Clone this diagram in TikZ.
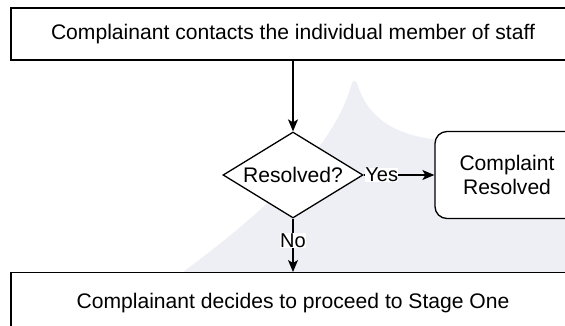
\documentclass[tikz,border=0pt]{standalone}
\usepackage{fontspec}
\setmainfont{Liberation Sans}
\usetikzlibrary{shapes.geometric,arrows.meta}
\definecolor{wm}{RGB}{238,239,245}
\begin{document}
\begin{tikzpicture}[x=1pt,y=-1pt,
  every node/.style={font=\fontsize{21.1}{23.5}\selectfont},
  boxstyle/.style={draw, line width=1.3pt, fill=white, inner sep=0pt, minimum width=564pt},
  decstyle/.style={draw, diamond, shape aspect=1.63, line width=1.3pt, fill=white, inner sep=0pt, minimum width=140pt, minimum height=86pt},
  endstyle/.style={draw, rectangle, rounded corners=12pt, line width=1.3pt, fill=white, inner sep=0pt, minimum width=144pt, minimum height=87pt, align=center},
  conn/.style={line width=1.3pt, -{Stealth[length=12pt,width=10pt,inset=3pt]}},
  lbl/.style={fill=white, inner sep=0.5pt, font=\fontsize{20}{22}\selectfont}]
\useasboundingbox (0,0) rectangle (565,325);
% faint background shape
\fill[wm] (183,272) .. controls (260,215) and (333,150) .. (351,86)
  .. controls (353,79) and (356,79) .. (358,86)
  .. controls (370,122) and (400,136) .. (440,140) -- (570,140) -- (570,272) -- cycle;
\node[boxstyle, minimum height=52pt] (top) at (293,34) {Complainant contacts the individual member of staff};
\node[decstyle] (dec) at (293,175) {Resolved?};
\node[endstyle] (res) at (507,175) {Complaint\\Resolved};
\node[boxstyle, anchor=north, text height=36pt, text depth=24pt] (bot) at (293,272) {Complainant decides to proceed to Stage One};
\draw[conn] (top) -- (dec);
\draw[conn] (dec.east) -- node[lbl, pos=0.255] {Yes} (res.west);
\draw[conn] (dec.south) -- node[lbl, pos=0.41] {No} (bot.north);
\end{tikzpicture}
\end{document}
